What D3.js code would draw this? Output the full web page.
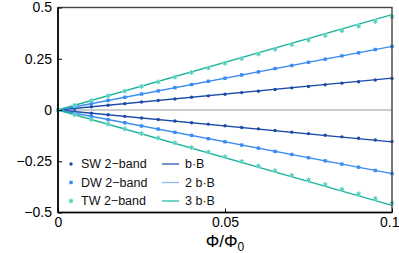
<!DOCTYPE html>
<html><head><meta charset="utf-8">
<script src="https://cdn.jsdelivr.net/npm/d3@7"></script>
<style>body{margin:0;background:#fff}svg{display:block}text{font-family:"Liberation Sans",Arial,sans-serif}</style>
</head><body>
<svg id="c" width="399" height="253"></svg>
<script>
const flux = [0,0.005,0.01,0.015,0.02,0.025,0.03,0.035,0.04,0.045,0.05,0.055,0.06,0.065,0.07,0.075,0.08,0.085,0.09,0.095,0.1];
const swUp = [0,0.008,0.016,0.023,0.031,0.039,0.046,0.054,0.062,0.069,0.077,0.085,0.092,0.100,0.108,0.115,0.123,0.131,0.138,0.146,0.154];
const swDn = [0,-0.008,-0.016,-0.023,-0.031,-0.039,-0.046,-0.054,-0.062,-0.069,-0.077,-0.085,-0.092,-0.100,-0.108,-0.115,-0.123,-0.131,-0.138,-0.146,-0.154];
const dwUp = [0,0.016,0.031,0.047,0.062,0.078,0.093,0.109,0.124,0.140,0.155,0.171,0.186,0.202,0.217,0.233,0.248,0.264,0.279,0.295,0.310];
const dwDn = [0,-0.016,-0.031,-0.047,-0.062,-0.078,-0.093,-0.109,-0.124,-0.140,-0.155,-0.171,-0.186,-0.202,-0.217,-0.233,-0.248,-0.264,-0.279,-0.295,-0.310];
const twUp = [0,0.023,0.046,0.069,0.092,0.115,0.137,0.160,0.183,0.205,0.228,0.251,0.273,0.296,0.319,0.341,0.364,0.387,0.409,0.432,0.455];
const twDn = [0,-0.023,-0.046,-0.069,-0.092,-0.115,-0.137,-0.160,-0.183,-0.205,-0.228,-0.251,-0.273,-0.296,-0.319,-0.341,-0.364,-0.387,-0.409,-0.432,-0.455];
const bB = 0.155; // line value at flux 0.1 for b·B, multiples 1,2,3
const lineMult = [1,2,3];
const lineNames = ["b·B","2 b·B","3 b·B"];
const seriesNames = ["SW 2\u2212band","DW 2\u2212band","TW 2\u2212band"];
const xTicks = [0,0.05,0.1];
const xTickLabels = ["0","0.05","0.1"];
const yTicks = [0.5,0.25,0,-0.25,-0.5];
const yTickLabels = ["0.5","0.25","0","\u22120.25","\u22120.5"];

const colLine = ["#1b4aa6","#3a8cf0","#1fb39c"];
const colMark = ["#1b4aa6","#3a8cf0","#45cdb9"];
const colLegLine = ["#2a56ae","#8cbaf2","#2cbba4"];

const svg = d3.select("#c");
const L=58,R=392,T=7.5,B=212.5;
const x = d3.scaleLinear().domain([0,0.1]).range([L,R]);
const y = d3.scaleLinear().domain([-0.5,0.5]).range([B,T]);

svg.append("line").attr("x1",L).attr("x2",R).attr("y1",y(0)).attr("y2",y(0)).attr("stroke","#9a9a9a").attr("stroke-width",1);

lineMult.forEach((m,i)=>{
  [1,-1].forEach(s=>{
    svg.append("line").attr("x1",x(0)).attr("y1",y(0)).attr("x2",x(0.1)).attr("y2",y(s*m*bB))
      .attr("stroke",colLine[i]).attr("stroke-width",1.3);
  });
});

const pts = (arr)=>flux.map((f,k)=>[f,arr[k]]);
[swUp,swDn].forEach(a=>{
  svg.append("g").selectAll("circle").data(pts(a)).join("circle")
    .attr("cx",d=>x(d[0])).attr("cy",d=>y(d[1])).attr("r",1.7).attr("fill",colMark[0]);
});
[dwUp,dwDn].forEach(a=>{
  svg.append("g").selectAll("rect").data(pts(a)).join("rect")
    .attr("x",d=>x(d[0])-1.7).attr("y",d=>y(d[1])-1.7).attr("width",3.4).attr("height",3.4).attr("fill",colMark[1]);
});
const star = d3.symbol().type(d3.symbolAsterisk).size(16);
[twUp,twDn].forEach(a=>{
  const g = svg.append("g");
  g.selectAll("circle").data(pts(a)).join("circle")
    .attr("cx",d=>x(d[0])).attr("cy",d=>y(d[1])).attr("r",2.3).attr("fill","#bfeee6").attr("opacity",0.8);
  g.selectAll("path").data(pts(a)).join("path")
    .attr("transform",d=>`translate(${x(d[0])},${y(d[1])})`).attr("d",star)
    .attr("fill","none").attr("stroke",colMark[2]).attr("stroke-width",1);
});

svg.append("rect").attr("x",L).attr("y",T).attr("width",R-L).attr("height",B-T)
  .attr("fill","none").attr("stroke","#444").attr("stroke-width",1.4);
svg.append("line").attr("x1",L).attr("x2",L).attr("y1",T).attr("y2",B).attr("stroke","#000").attr("stroke-width",1.6);
svg.append("line").attr("x1",L).attr("x2",R).attr("y1",B).attr("y2",B).attr("stroke","#000").attr("stroke-width",1.6);

const ya = d3.axisLeft(y).tickValues(yTicks).tickFormat((d,i)=>yTickLabels[i]).tickSizeInner(-4).tickSizeOuter(0).tickPadding(6);
const yg = svg.append("g").attr("transform",`translate(${L},0)`).call(ya);
yg.select(".domain").remove();
yg.selectAll("text").attr("font-size",14).attr("fill","#000").attr("font-family","Liberation Sans, Arial, sans-serif");
yg.selectAll("line").attr("stroke","#000");
const xa = d3.axisBottom(x).tickValues(xTicks).tickFormat((d,i)=>xTickLabels[i]).tickSizeInner(-4).tickSizeOuter(0).tickPadding(5);
const xg = svg.append("g").attr("transform",`translate(0,${B})`).call(xa);
xg.select(".domain").remove();
xg.selectAll("text").attr("font-size",14).attr("fill","#000").attr("font-family","Liberation Sans, Arial, sans-serif");
xg.selectAll("text").filter((d,i)=>i===2).attr("text-anchor","end").attr("dx",7);
xg.selectAll("line").attr("stroke","#000");

const t = svg.append("text").attr("x",225).attr("y",247).attr("text-anchor","middle").attr("font-size",17).attr("fill","#000");
t.append("tspan").text("\u03A6/\u03A6");
t.append("tspan").attr("font-size",12).attr("dy",4).text("0");

const ly = [164,182.5,201];
seriesNames.forEach((n,i)=>{
  const g = svg.append("g");
  if(i===0) g.append("circle").attr("cx",71).attr("cy",ly[i]).attr("r",1.7).attr("fill",colMark[0]);
  if(i===1) g.append("rect").attr("x",69.3).attr("y",ly[i]-1.7).attr("width",3.4).attr("height",3.4).attr("fill",colMark[1]);
  if(i===2){ g.append("circle").attr("cx",71).attr("cy",ly[i]).attr("r",2.3).attr("fill","#bfeee6");
    g.append("path").attr("transform",`translate(71,${ly[i]})`).attr("d",star).attr("fill","none").attr("stroke",colMark[2]).attr("stroke-width",1);}
  g.append("text").attr("x",81).attr("y",ly[i]+4.4).attr("font-size",12.5).attr("fill","#111").text(n);
  g.append("line").attr("x1",162).attr("x2",179).attr("y1",ly[i]).attr("y2",ly[i]).attr("stroke",colLegLine[i]).attr("stroke-width",1.3);
  g.append("text").attr("x",185).attr("y",ly[i]+4.4).attr("font-size",12.5).attr("fill","#111").text(lineNames[i]);
});
</script>
</body></html>
